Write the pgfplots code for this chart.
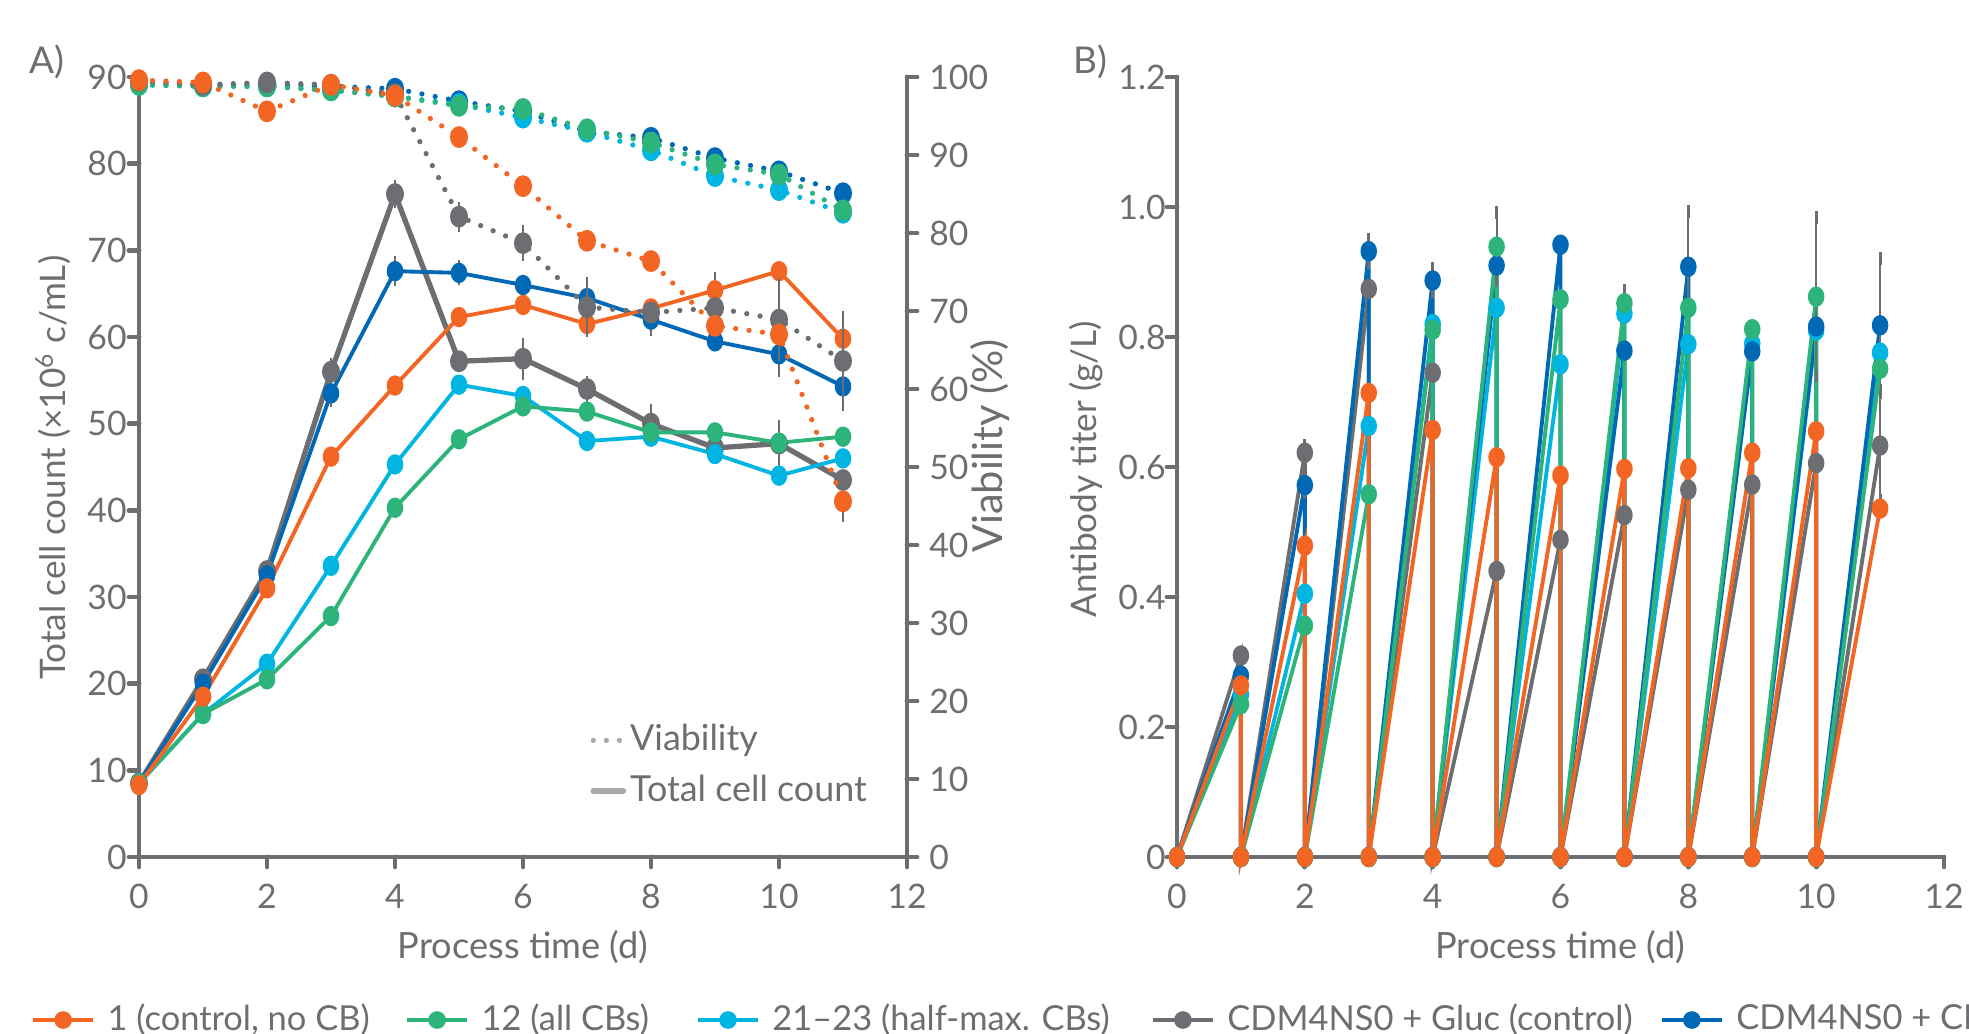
\documentclass[border=0pt]{standalone}
\usepackage{pgfplots}
\pgfplotsset{compat=1.18}
\usepackage{fontspec}
\setmainfont{Lato}
\definecolor{txtgrey}{HTML}{6D6E71}
\definecolor{corange}{HTML}{F26522}
\definecolor{cgreen}{HTML}{2DB47A}
\definecolor{ccyan}{HTML}{00B5E2}
\definecolor{cgrey}{HTML}{6D6E71}
\definecolor{cblue}{HTML}{0068B5}
\definecolor{lightgrey}{HTML}{A7A9AC}
\pgfplotsset{
  base/.style={
    scale only axis, clip=false,
    xmin=0, xmax=12,
    tick align=outside, major tick length=1mm,
    axis line style={-, line width=1.4pt, color=txtgrey, line cap=round},
    every tick/.style={line width=1.4pt, color=txtgrey, line cap=round},
    ticklabel style={font=\fontsize{9.6}{11}\selectfont, text=txtgrey},
    xticklabel style={yshift=-0.5mm},
    /pgf/number format/assume math mode=true,
    label style={text=txtgrey},
  },
  ser/.style={line width=1.1pt, mark=*, mark size=1.8pt, mark options={solid, yscale=1.3}},
  viab/.style={line width=1.5pt, line cap=round, dash pattern=on 0pt off 1.35mm},
  eb/.style={error bars/y dir=both, error bars/y explicit,
    error bars/error bar style={line width=0.6pt, color=txtgrey, solid},
    error bars/error mark options={mark size=1.8pt, line width=0.8pt, color=txtgrey, solid}},
}
\begin{document}
\begin{tikzpicture}
\path[use as bounding box] (0,0) rectangle (196.9mm,103.3mm);
% ---------- Panel A: total cell count ----------
\begin{axis}[base,
  at={(13.9mm,17.6mm)}, anchor=south west,
  width=76.8mm, height=78mm,
  ymin=0, ymax=90,
  axis x line*=bottom, axis y line*=left,
  xtick={0,2,...,12}, ytick={0,10,...,90},
  yticklabel style={xshift=1mm},
  xlabel={Process time (d)},
  xlabel style={at={(axis description cs:0.5,-0.1154)}, anchor=center, font=\fontsize{10.3}{12}\selectfont},
  ylabel={Total cell count (×10\textsuperscript{6} c/mL)},
  ylabel style={at={(axis description cs:-0.112,0.499)}, anchor=center, font=\fontsize{10}{12}\selectfont},
]
\addplot+[ser, cgrey, line width=1.5pt, eb, forget plot] coordinates {
(0,8.5) +- (0,0) (1,20.5) +- (0,0) (2,33) +- (0,0) (3,56) +- (0,0.8) (4,76.5) +- (0,0.9) (5,57.2) +- (0,0)
(6,57.5) +- (0,1.7) (7,54) +- (0,0.8) (8,50) +- (0,1.5) (9,47.2) +- (0,0) (10,47.7) +- (0,2.0) (11,43.5) +- (0,0)};
\addplot+[ser, cblue, eb, forget plot] coordinates {
(0,8.5) +- (0,0) (1,20) +- (0,0) (2,32.5) +- (0,0) (3,53.5) +- (0,0.8) (4,67.6) +- (0,1.0) (5,67.4) +- (0,0.7)
(6,66) +- (0,0) (7,64.5) +- (0,0) (8,62) +- (0,1.2) (9,59.5) +- (0,0) (10,58) +- (0,1.9) (11,54.3) +- (0,2.0)};
\addplot+[ser, ccyan, forget plot] coordinates {
(0,8.5) (1,16.5) (2,22.3) (3,33.6) (4,45.3) (5,54.5) (6,53.2) (7,48) (8,48.5) (9,46.5) (10,44) (11,46)};
\addplot+[ser, cgreen, forget plot] coordinates {
(0,8.5) (1,16.5) (2,20.5) (3,27.8) (4,40.3) (5,48.2) (6,52) (7,51.4) (8,49) (9,49) (10,47.8) (11,48.5)};
\addplot+[ser, corange, eb, forget plot] coordinates {
(0,8.3) +- (0,0) (1,18.5) +- (0,0) (2,31) +- (0,0) (3,46.2) +- (0,0) (4,54.4) +- (0,0) (5,62.3) +- (0,0)
(6,63.7) +- (0,0) (7,61.5) +- (0,0) (8,63.3) +- (0,0) (9,65.4) +- (0,1.4) (10,67.6) +- (0,0) (11,59.8) +- (0,2.5)};
\end{axis}
% ---------- Panel A: viability ----------
\begin{axis}[base,
  at={(13.9mm,17.6mm)}, anchor=south west,
  width=76.8mm, height=78mm,
  ymin=0, ymax=100,
  axis x line=none, axis y line*=right,
  ytick={0,10,...,100},
  ylabel={Viability (\%)},
  ylabel style={at={(axis description cs:1.108,0.527)}, anchor=center, font=\fontsize{11.8}{14}\selectfont},
  legend style={at={(axis description cs:0.587,0.117)}, anchor=west, draw=none, fill=none,
    inner sep=0pt, row sep=1.9mm, nodes={inner sep=0pt}, font=\fontsize{10.2}{12}\selectfont, text=txtgrey},
  legend cell align=left,
]
\addplot+[viab, ser, line width=1.5pt, cblue, forget plot] coordinates {
(0,99.3) (1,99) (2,99) (3,98.8) (4,98.5) (5,96.9) (6,95.6) (7,93.0) (8,92.2) (9,89.6) (10,87.9) (11,85.1)};
\addplot+[viab, ser, line width=1.5pt, ccyan, forget plot] coordinates {
(0,99) (1,98.8) (2,98.8) (3,98.3) (4,97.5) (5,96.5) (6,94.8) (7,93.0) (8,90.6) (9,87.3) (10,85.5) (11,82.6)};
\addplot+[viab, ser, line width=1.5pt, cgreen, forget plot] coordinates {
(0,99) (1,98.8) (2,98.8) (3,98.3) (4,97.5) (5,96.3) (6,95.9) (7,93.3) (8,91.6) (9,88.8) (10,87.5) (11,82.9)};
\addplot+[viab, ser, line width=1.5pt, cgrey, eb, forget plot] coordinates {
(0,99.5) +- (0,0) (1,99) +- (0,0) (2,99.3) +- (0,0) (3,99) +- (0,0) (4,97.8) +- (0,0) (5,82.1) +- (0,1.1)
(6,78.7) +- (0,1.5) (7,70.5) +- (0,3) (8,69.8) +- (0,0) (9,70.4) +- (0,0) (10,68.9) +- (0,4.5) (11,63.6) +- (0,5.6)};
\addplot+[viab, ser, line width=1.5pt, corange, eb, forget plot] coordinates {
(0,99.6) +- (0,0) (1,99.3) +- (0,0) (2,95.6) +- (0,0) (3,99.0) +- (0,0) (4,97.6) +- (0,0) (5,92.3) +- (0,0)
(6,86.0) +- (0,0) (7,79.0) +- (0,0) (8,76.4) +- (0,0) (9,68.1) +- (0,0) (10,67.0) +- (0,0) (11,45.6) +- (0,1.8)};
\addlegendimage{legend image code/.code={\draw[lightgrey, line width=1.5pt, line cap=round, dash pattern=on 0pt off 1.3mm] (0mm,0mm) -- (3mm,0mm);}}
\addlegendentry{\hspace{0.4mm}Viability}
\addlegendimage{legend image code/.code={\draw[lightgrey, line width=1.6pt, line cap=round] (0mm,0mm) -- (3mm,0mm);}}
\addlegendentry{\hspace{0.4mm}Total cell count}
\end{axis}
% ---------- Panel B ----------
\begin{axis}[base,
  at={(117.7mm,17.6mm)}, anchor=south west,
  width=76.7mm, height=78mm,
  ymin=0, ymax=1.2,
  axis x line*=bottom, axis y line*=left,
  xtick={0,2,...,12}, ytick={0,0.2,0.4,0.6,0.8,1.0,1.2},
  yticklabels={0,0.2,0.4,0.6,0.8,1.0,1.2},
  yticklabel style={xshift=1.1mm},
  xlabel={Process time (d)},
  xlabel style={at={(axis description cs:0.5,-0.1154)}, anchor=center, font=\fontsize{10.3}{12}\selectfont},
  ylabel={Antibody titer (g/L)},
  ylabel style={at={(axis description cs:-0.119,0.497)}, anchor=center, font=\fontsize{10}{12}\selectfont},
  legend columns=5,
  legend style={at={(axis description cs:-1.4954,-0.209)}, anchor=west, draw=none, fill=none,
    inner sep=0pt, column sep=0pt, nodes={inner sep=0pt}, font=\fontsize{9.8}{12}\selectfont, text=txtgrey},
  legend cell align=left,
]
\addplot+[ser, cgrey, eb, forget plot] coordinates {
(0,0) +- (0,0) (1,0.31) +- (0,0) (1,0) +- (0,0) (2,0.622) +- (0,0.012) (2,0) +- (0,0)
(3,0.874) +- (0,0.038) (3,0) +- (0,0) (4,0.745) +- (0,0.047) (4,0) +- (0,0) (5,0.44) +- (0,0.04) (5,0) +- (0,0)
(6,0.488) +- (0,0.05) (6,0) +- (0,0) (7,0.526) +- (0,0.07) (7,0) +- (0,0) (8,0.565) +- (0,0.105) (8,0) +- (0,0)
(9,0.573) +- (0,0.095) (9,0) +- (0,0) (10,0.606) +- (0,0.07) (10,0) +- (0,0) (11,0.633) +- (0,0.085)};
\addplot+[ser, ccyan, forget plot] coordinates {
(0,0) (1,0.25) (1,0) (2,0.405) (2,0) (3,0.663) (3,0) (4,0.82) (4,0) (5,0.845) (5,0)
(6,0.758) (6,0) (7,0.836) (7,0) (8,0.789) (8,0) (9,0.79) (9,0) (10,0.81) (10,0) (11,0.776)};
\addplot+[ser, cblue, eb, forget plot] coordinates {
(0,0) +- (0,0) (1,0.279) +- (0,0) (1,0) +- (0,0) (2,0.572) +- (0,0.01) (2,0) +- (0,0)
(3,0.932) +- (0,0.018) (3,0) +- (0,0) (4,0.887) +- (0,0.018) (4,0) +- (0,0) (5,0.91) +- (0,0.082) (5,0) +- (0,0)
(6,0.942) +- (0,0) (6,0) +- (0,0) (7,0.779) +- (0,0) (7,0) +- (0,0) (8,0.908) +- (0,0.085) (8,0) +- (0,0)
(9,0.778) +- (0,0.02) (9,0) +- (0,0) (10,0.816) +- (0,0) (10,0) +- (0,0) (11,0.818) +- (0,0.103)};
\addplot+[ser, cgreen, eb, forget plot] coordinates {
(0,0) +- (0,0) (1,0.235) +- (0,0) (1,0) +- (0,0) (2,0.356) +- (0,0) (2,0) +- (0,0)
(3,0.558) +- (0,0) (3,0) +- (0,0) (4,0.811) +- (0,0) (4,0) +- (0,0) (5,0.939) +- (0,0.053) (5,0) +- (0,0)
(6,0.858) +- (0,0) (6,0) +- (0,0) (7,0.852) +- (0,0.02) (7,0) +- (0,0) (8,0.845) +- (0,0) (8,0) +- (0,0)
(9,0.812) +- (0,0) (9,0) +- (0,0) (10,0.862) +- (0,0.122) (10,0) +- (0,0) (11,0.751) +- (0,0)};
\addplot+[ser, corange, forget plot] coordinates {
(0,0) (1,0.264) (1,0) (2,0.479) (2,0) (3,0.714) (3,0) (4,0.657) (4,0) (5,0.615) (5,0)
(6,0.587) (6,0) (7,0.597) (7,0) (8,0.598) (8,0) (9,0.622) (9,0) (10,0.655) (10,0) (11,0.536)};
\addlegendimage{corange, line width=1.4pt, mark=*, mark size=1.8pt}
\addlegendentry{\makebox[30.9mm][l]{\hspace{1.2mm}1 (control, no CB)}}
\addlegendimage{cgreen, line width=1.4pt, mark=*, mark size=1.8pt}
\addlegendentry{\makebox[22.6mm][l]{\hspace{1.2mm}12 (all CBs)}}
\addlegendimage{ccyan, line width=1.4pt, mark=*, mark size=1.8pt}
\addlegendentry{\makebox[39.0mm][l]{\hspace{1.2mm}21–23 (half-max. CBs)}}
\addlegendimage{cgrey, line width=1.4pt, mark=*, mark size=1.8pt}
\addlegendentry{\makebox[44.4mm][l]{\hspace{1.2mm}CDM4NS0 + Gluc (control)}}
\addlegendimage{cblue, line width=1.4pt, mark=*, mark size=1.8pt}
\addlegendentry{\makebox[40mm][l]{\hspace{1.2mm}CDM4NS0 + CBs}}
\end{axis}
\node[text=txtgrey, font=\fontsize{10.5}{13}\selectfont] at (4.65mm,97.1mm) {A)};
\node[text=txtgrey, font=\fontsize{10.5}{13}\selectfont] at (109mm,97.1mm) {B)};
\end{tikzpicture}
\end{document}
